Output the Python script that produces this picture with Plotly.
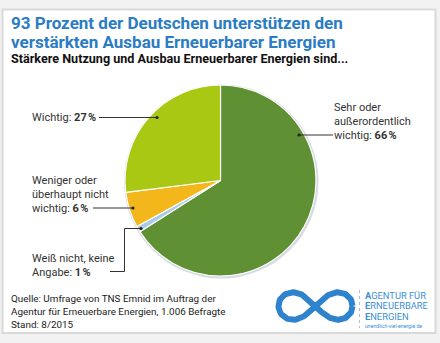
import numpy as np
import plotly.graph_objects as go

# Survey answers, clockwise from 12 o'clock
categories = ["Sehr oder außerordentlich wichtig", "Weiß nicht, keine Angabe",
              "Weniger oder überhaupt nicht wichtig", "Wichtig"]
shares = [66, 1, 6, 27]
slice_colors = ["#5f9134", "#a9cbe6", "#f3b71c", "#a8c814"]

W, H = 440, 343
BLUE = "#2a7cc4"
TEXT = "#333333"
FONT = "Roboto"

fig = go.Figure()

# pie sized as a square in pixel units
cx, cy, r = 220.5, 180.5, 95.5
fig.add_trace(go.Pie(
    labels=categories, values=shares, sort=False, direction="clockwise",
    rotation=0, marker=dict(colors=slice_colors, line=dict(color="white", width=1.2)),
    textinfo="none", hoverinfo="label+percent", showlegend=False,
    domain=dict(x=[(cx - r) / W, (cx + r) / W], y=[1 - (cy + r) / H, 1 - (cy - r) / H]),
))

# infinity logo as a lemniscate on a pixel-scaled overlay axis
t = np.linspace(0, 2 * np.pi, 200)
a = 37
lx = 315.5 + a * np.cos(t) / (1 + np.sin(t) ** 2)
ly = 306 + a * np.sin(t) * np.cos(t) / (1 + np.sin(t) ** 2) * 1.05
fig.add_trace(go.Scatter(x=lx, y=ly, mode="lines", line=dict(color="#2f83cc", width=6),
                         hoverinfo="skip", showlegend=False))

shapes = [
    dict(type="rect", x0=2.5, y0=9.5, x1=435.5, y1=333, fillcolor="white",
         line=dict(color="#d9d9d9", width=2), layer="below"),
    dict(type="circle", x0=cx - r - 1, y0=cy - r - 0.5, x1=cx + r + 2.5, y1=cy + r + 2.5,
         fillcolor="#d5dbe2", line=dict(width=0), layer="below"),
    # leader lines
    dict(type="line", x0=99, y0=117.5, x1=157, y1=117.5, line=dict(color=TEXT, width=1)),
    dict(type="line", x0=93, y0=208, x1=133, y1=208, line=dict(color=TEXT, width=1)),
    dict(type="path", path="M 110 271.5 L 124.5 271.5 L 124.5 228.5 L 141 228.5",
         line=dict(color=TEXT, width=1)),
    dict(type="line", x0=299, y0=135, x1=333, y1=135, line=dict(color=TEXT, width=1)),
    # dotted divider in logo
    dict(type="line", x0=359.5, y0=290, x1=359.5, y1=328,
         line=dict(color="#9cc3e6", width=1, dash="dot")),
]
for (dx, dy) in [(157, 117.5), (133, 208), (141, 228.5), (299, 135)]:
    shapes.append(dict(type="circle", x0=dx - 1.6, y0=dy - 1.6, x1=dx + 1.6, y1=dy + 1.6,
                       fillcolor="#222222", line=dict(width=0)))
for s in shapes:
    s.setdefault("xref", "x")
    s.setdefault("yref", "y")

def txt(x, y, s, size=11, color=TEXT, family=FONT):
    return dict(x=x, y=y, xref="x", yref="y", text=s, showarrow=False,
                xanchor="left", yanchor="middle", align="left",
                font=dict(size=size, color=color, family=family))

def block(x, y0, step, lines, **kw):
    return [txt(x, y0 + i * step, s, **kw) for i, s in enumerate(lines)]

pct = "\u202f%"
annotations = [
    txt(9, 23, "<b>93 Prozent der Deutschen unterstützen den</b>", size=17, color=BLUE),
    txt(9, 41.5, "<b>verstärkten Ausbau Erneuerbarer Energien</b>", size=17, color=BLUE),
    txt(9, 58.5, "<b>Stärkere Nutzung und Ausbau Erneuerbarer Energien sind...</b>", size=12.6,
        color="#111111"),
    txt(30, 117.5, "Wichtig: <b>27" + pct + "</b>"),
]
annotations += block(30, 180, 14, ["Weniger oder", "überhaupt nicht",
                                    "wichtig: <b>6" + pct + "</b>"])
annotations += block(30, 258, 14, ["Weiß nicht, keine", "Angabe: <b>1" + pct + "</b>"])
annotations += block(332, 107.5, 14, ["Sehr oder", "außerordentlich",
                                       "wichtig: <b>66" + pct + "</b>"])
annotations.append(txt(9, 311, "Quelle: Umfrage von TNS Emnid im Auftrag der<br>"
                       "Agentur für Erneuerbare Energien, 1.006 Befragte<br>Stand: 8/2015",
                       size=9.9, color="#222222"))
annotations += block(363, 295, 10.6, ["<b>A</b>GENTUR FÜR", "<b>E</b>RNEUERBARE",
                                       "<b>E</b>NERGIEN"], size=9.3, color="#3a8fd6")
annotations.append(txt(363, 325.5, "unendlich-viel-energie.de", size=5.2, color="#3a8fd6"))

fig.update_layout(
    width=W, height=H, margin=dict(l=0, r=0, t=0, b=0),
    paper_bgcolor="#f2f2f2", plot_bgcolor="rgba(0,0,0,0)",
    xaxis=dict(range=[0, W], visible=False, fixedrange=True, domain=[0, 1]),
    yaxis=dict(range=[H, 0], visible=False, fixedrange=True, domain=[0, 1]),
    shapes=shapes, annotations=annotations, showlegend=False,
)

fig.write_html("out.html", config={"displayModeBar": False})
